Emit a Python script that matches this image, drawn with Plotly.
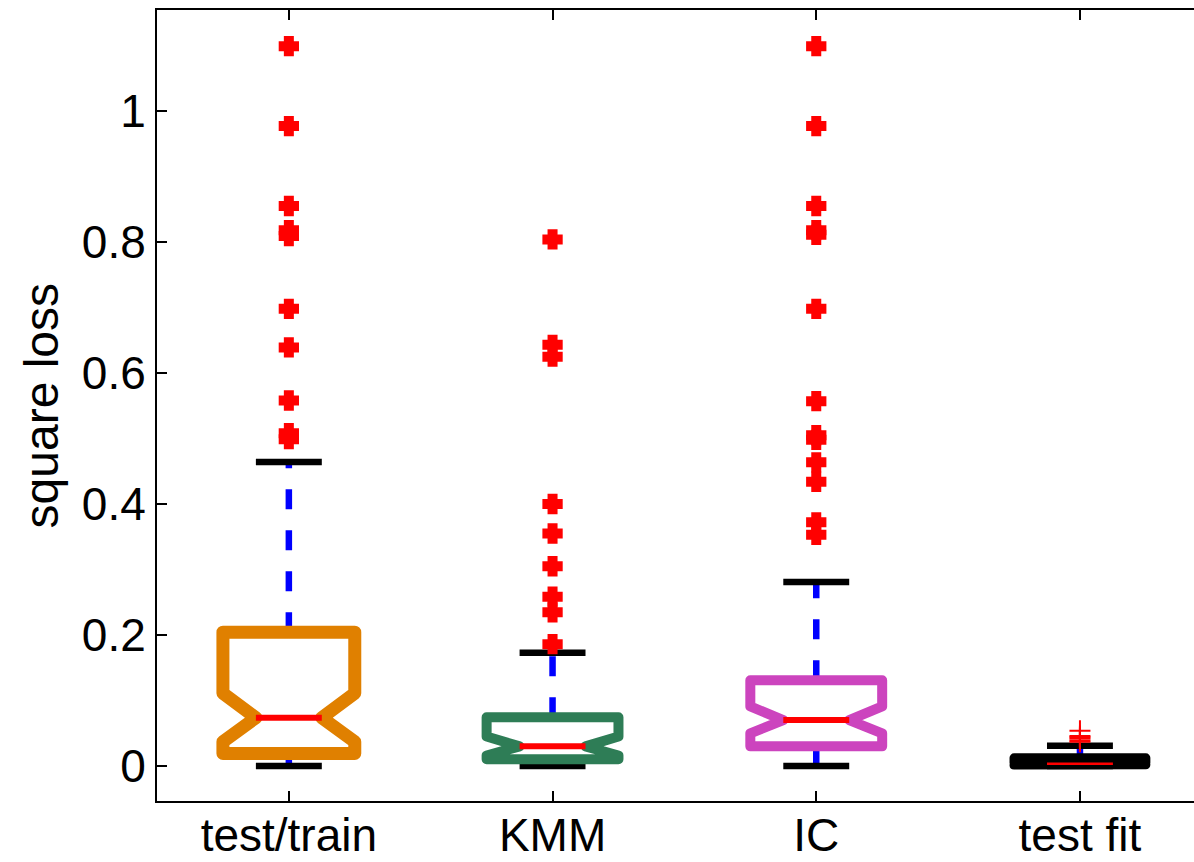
import plotly.graph_objects as go

# Summary statistics of the square loss for each method
methods = ["test/train", "KMM", "IC", "test fit"]
q1 = [0.0191, 0.0104, 0.0300, 0.0020]
median = [0.0738, 0.0300, 0.0702, 0.0035]
q3 = [0.2043, 0.0745, 0.1310, 0.0125]
notch_lo = [0.0370, 0.0160, 0.0500, 0.0015]
notch_hi = [0.1110, 0.0450, 0.0910, 0.0055]
whisker_lo = [0.0, 0.0, 0.0, 0.0]
whisker_hi = [0.464, 0.173, 0.281, 0.031]
outliers = [
    [1.099, 0.977, 0.855, 0.818, 0.809, 0.698, 0.639, 0.558, 0.508, 0.499],
    [0.804, 0.643, 0.625, 0.400, 0.355, 0.305, 0.2585, 0.2346, 0.186],
    [1.099, 0.977, 0.855, 0.818, 0.811, 0.698, 0.557, 0.505, 0.498,
     0.4636, 0.434, 0.372, 0.353],
    [0.054, 0.046, 0.044, 0.042, 0.039, 0.037],
]
y_ticks = [0, 0.2, 0.4, 0.6, 0.8, 1]

box_colors = ["rgb(224,128,0)", "rgb(46,125,86)", "rgb(204,68,190)", "black"]
box_line = [13, 10, 10, 9]
median_line = [6, 6, 6, 2.5]
HALF = 0.25    # half box width (x units)
NOTCH = 0.125  # half width at the notch

positions = list(range(1, len(methods) + 1))
fig = go.Figure()

common = dict(mode="lines", hoverinfo="skip", showlegend=False)

# whiskers (dashed blue), drawn from the box edge outwards
for c, lo, a, b, hi in zip(positions, whisker_lo, q1, q3, whisker_hi):
    for ys in ([b, hi], [lo, a]):
        fig.add_trace(go.Scatter(x=[c, c], y=ys,
                                 line=dict(color="blue", width=6.5, dash="20px,21px"),
                                 **common))

# whisker caps
for c, lo, hi in zip(positions, whisker_lo, whisker_hi):
    for v in (hi, lo):
        fig.add_trace(go.Scatter(x=[c - NOTCH, c + NOTCH], y=[v, v],
                                 line=dict(color="black", width=6.5), **common))

# notched boxes
for i, c in enumerate(positions):
    xs = [c, c - HALF, c - HALF, c - NOTCH, c - HALF, c - HALF,
          c + HALF, c + HALF, c + NOTCH, c + HALF, c + HALF, c]
    ys = [q3[i], q3[i], notch_hi[i], median[i], notch_lo[i], q1[i],
          q1[i], notch_lo[i], median[i], notch_hi[i], q3[i], q3[i]]
    fig.add_trace(go.Scatter(x=xs, y=ys,
                             line=dict(color=box_colors[i], width=box_line[i]),
                             **common))

# medians
for i, c in enumerate(positions):
    fig.add_trace(go.Scatter(x=[c - NOTCH, c + NOTCH], y=[median[i], median[i]],
                             line=dict(color="red", width=median_line[i]), **common))

# outliers
for i, c in enumerate(positions):
    thin = i == 3
    fig.add_trace(go.Scatter(
        x=[c] * len(outliers[i]), y=outliers[i], mode="markers",
        hoverinfo="skip", showlegend=False,
        marker=dict(symbol="cross-thin", size=15 if thin else 14.5,
                    line=dict(color="red", width=2 if thin else 10)),
    ))

font = dict(family="Liberation Sans, Arial, Helvetica, sans-serif", size=46, color="black")

fig.update_layout(
    width=1194, height=862,
    margin=dict(l=157, r=0, t=10, b=61),
    paper_bgcolor="white", plot_bgcolor="white",
    font=font,
    xaxis=dict(range=[0.5, 4.4325], tickvals=positions, ticktext=methods,
               ticks="inside", ticklen=10, tickwidth=1.5, tickcolor="black",
               showline=True, linewidth=2, linecolor="black", mirror="ticks",
               showgrid=False, zeroline=False, tickfont=font, automargin=False,
               ticklabelstandoff=-7),
    yaxis=dict(range=[-0.0534, 1.1542], tickvals=y_ticks,
               ticktext=[f"{v:g}" for v in y_ticks],
               ticks="inside", ticklen=10, tickwidth=1.5, tickcolor="black",
               showline=True, linewidth=2, linecolor="black", mirror=False,
               showgrid=False, zeroline=False, tickfont=font, automargin=False),
    annotations=[dict(text="square loss", textangle=-90, xref="paper", yref="paper",
                      x=-0.111, y=0.5, xanchor="center", yanchor="middle",
                      showarrow=False, font=dict(font, size=48))],
)

round_joins = (
    "document.querySelectorAll('.scatterlayer path.js-line')"
    ".forEach(function(p){p.style.strokeLinejoin='round';});"
)
fig.write_html("out.html", post_script=round_joins)
